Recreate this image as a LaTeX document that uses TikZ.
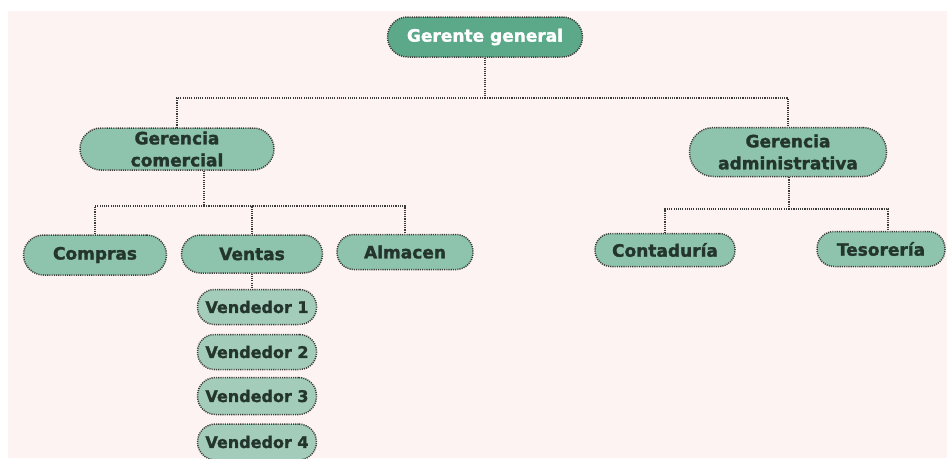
\documentclass[tikz,border=0pt]{standalone}
\usepackage{fontspec}
\setmainfont{DejaVu Sans}[BoldFeatures={FakeBold=1.6}]
\definecolor{bgpink}{HTML}{FDF3F2}
\definecolor{topgreen}{HTML}{5CA98A}
\definecolor{midgreen}{HTML}{8EC4AD}
\definecolor{lightgreen}{HTML}{A3CDBA}
\definecolor{txtdark}{HTML}{23352C}
\definecolor{dotgray}{HTML}{3A3A3A}
\tikzset{
  pill/.style={draw=dotgray, line width=1.5pt, dash pattern=on 1.1pt off 1.1pt,
    fill=midgreen, inner sep=0pt, align=center, text=txtdark,
    font=\fontsize{17}{22}\selectfont\bfseries},
  toppill/.style={pill, fill=topgreen, text=white},
  vpill/.style={pill, fill=lightgreen, font=\fontsize{16}{20}\selectfont\bfseries},
  conn/.style={draw=dotgray, line width=1.7pt, dash pattern=on 1.1pt off 1.1pt}
}
\begin{document}
\begin{tikzpicture}[x=1pt,y=-1pt]
\useasboundingbox (0,0) rectangle (947,458);
\fill[bgpink] (8,11) rectangle (947,458);
% nodes
\node[toppill, minimum width=195pt, minimum height=40pt, rounded corners=20pt] (gg) at (485,37) {Gerente general};
\node[pill, minimum width=194pt, minimum height=42pt, rounded corners=21pt] (gc) at (177,149) {Gerencia\\comercial};
\node[pill, minimum width=197pt, minimum height=49pt, rounded corners=24pt] (ga) at (788,152) {Gerencia\\administrativa};
\node[pill, minimum width=143pt, minimum height=40pt, rounded corners=20pt] (compras) at (95,255) {Compras};
\node[pill, minimum width=141pt, minimum height=38pt, rounded corners=19pt] (ventas) at (252,254) {Ventas};
\node[pill, minimum width=136pt, minimum height=35pt, rounded corners=17pt] (almacen) at (405,252) {Almacen};
\node[vpill, minimum width=119pt, minimum height=35pt, rounded corners=17pt] (v1) at (257,307) {Vendedor 1};
\node[vpill, minimum width=119pt, minimum height=35pt, rounded corners=17pt] (v2) at (257,352) {Vendedor 2};
\node[vpill, minimum width=119pt, minimum height=37pt, rounded corners=18pt] (v3) at (257,396) {Vendedor 3};
\node[vpill, minimum width=119pt, minimum height=36pt, rounded corners=18pt] (v4) at (257,442) {Vendedor 4};
\node[pill, minimum width=140pt, minimum height=33pt, rounded corners=16pt] (cont) at (665,250) {Contaduría};
\node[pill, minimum width=128pt, minimum height=35pt, rounded corners=17pt] (tes) at (881,249) {Tesorería};
% junctions
\coordinate (j1) at (485,98);
\coordinate (j2) at (204,206);
\coordinate (j3) at (789,209);
% connectors
\draw[conn] (gg.south) -- (j1);
\draw[conn] (j1) -| (gc.north);
\draw[conn] (j1) -| (ga.north);
\draw[conn] (gc.south -| j2) -- (j2);
\draw[conn] (j2) -| (compras.north);
\draw[conn] (j2) -| (ventas.north);
\draw[conn] (j2) -| (almacen.north);
\draw[conn] (ventas.south) -- (ventas.south |- v1.north);
\draw[conn] (ga.south -| j3) -- (j3);
\draw[conn] (j3) -| (cont.north);
\draw[conn] (j3) -| ([xshift=7pt]tes.north);
\end{tikzpicture}
\end{document}
